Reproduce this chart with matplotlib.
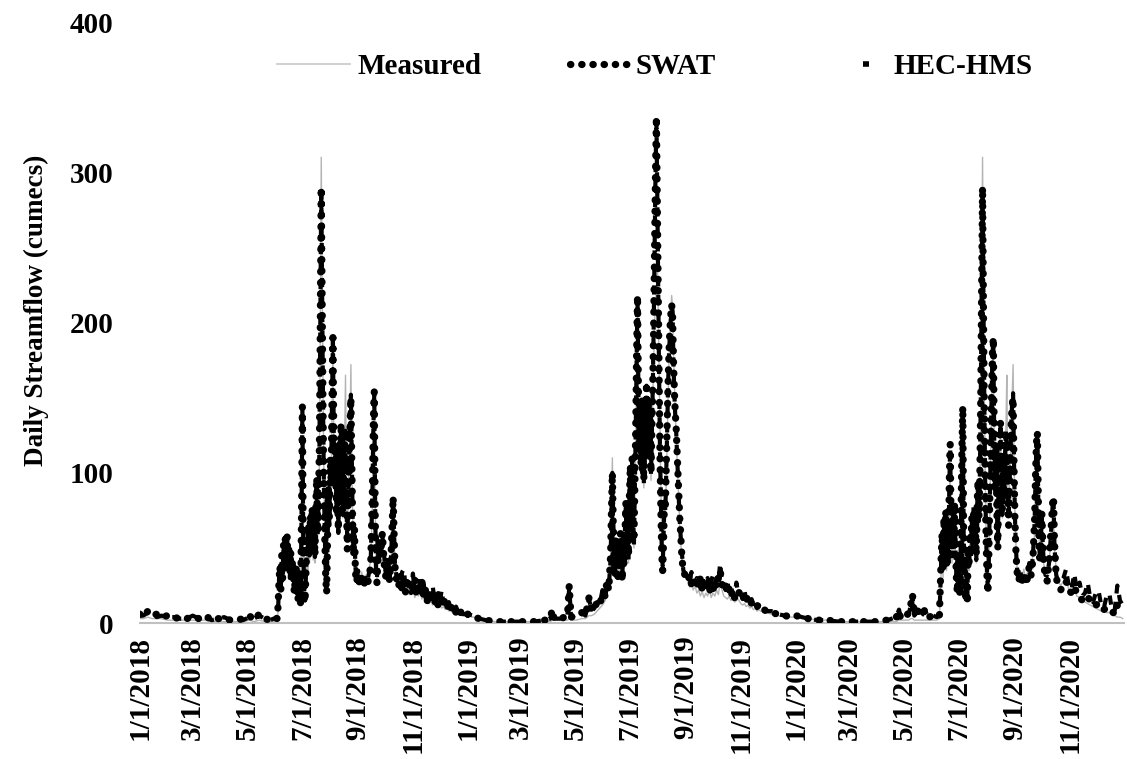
import matplotlib
matplotlib.use('Agg')
import matplotlib.pyplot as plt
import matplotlib.dates as mdates
from matplotlib.lines import Line2D
import pandas as pd

# values (cumecs), month-day per year
dates_2018 = [
    '01-01', '01-05', '01-10', '01-15', '01-20', '01-25', '02-01', '02-08', '02-15', '02-22', '03-01', '03-08', '03-15',
    '03-22', '03-29', '04-05', '04-12', '04-19', '04-26', '05-03', '05-08', '05-14', '05-20', '05-26', '05-30',
    '06-03', '06-04', '06-05', '06-06', '06-07', '06-08', '06-09', '06-10', '06-11', '06-12', '06-13', '06-14',
    '06-15', '06-16', '06-17', '06-18', '06-19', '06-20', '06-22', '06-24', '06-26', '06-28', '06-29', '06-30',
    '07-01', '07-02', '07-03', '07-04', '07-05', '07-06', '07-07', '07-08', '07-09', '07-10', '07-11', '07-12',
    '07-13', '07-14', '07-15', '07-16', '07-17', '07-18', '07-19', '07-20', '07-21', '07-22', '07-23', '07-24',
    '07-25', '07-26', '07-27', '07-28', '07-29', '07-30', '07-31',
    '08-01', '08-02', '08-03', '08-04', '08-05', '08-06', '08-07', '08-08', '08-09', '08-10', '08-11', '08-12',
    '08-13', '08-14', '08-15', '08-16', '08-17', '08-18', '08-19', '08-20', '08-21', '08-22', '08-23', '08-24',
    '08-25', '08-26', '08-27', '08-28', '08-29', '08-30',
    '09-01', '09-03', '09-05', '09-07', '09-09', '09-11', '09-13', '09-15', '09-17', '09-18', '09-19', '09-20',
    '09-21', '09-22', '09-24', '09-26', '09-28', '09-30',
    '10-02', '10-04', '10-06', '10-08', '10-10', '10-12', '10-14', '10-16', '10-18', '10-20', '10-22', '10-24',
    '10-26', '10-28', '10-30',
    '11-01', '11-03', '11-05', '11-07', '11-09', '11-11', '11-13', '11-15', '11-17', '11-19', '11-21', '11-23',
    '11-25', '11-27', '11-29',
    '12-01', '12-03', '12-05', '12-07', '12-09', '12-11', '12-13', '12-15', '12-17', '12-19', '12-21', '12-23',
    '12-25', '12-27', '12-29',
]
measured_2018 = [
    3, 3, 4, 3, 3, 3, 2, 2, 2, 2, 2, 2, 2, 1, 1, 1, 1, 1, 1, 2, 1, 2, 1, 1, 1,
    2, 8, 20, 30, 25, 38, 28, 42, 32, 45, 38, 48, 35, 42, 30, 40, 28, 35, 22, 30, 18, 25, 14, 60,
    125, 55, 25, 18, 30, 45, 35, 55, 40, 60, 45, 62, 42, 55, 40, 70, 85, 55, 75, 110, 200, 310, 230, 150,
    95, 60, 35, 24, 50, 80, 60,
    100, 90, 140, 180, 120, 85, 110, 70, 95, 60, 110, 80, 125, 90, 70, 100, 120, 165, 90, 55, 80, 110, 130,
    172, 110, 70, 50, 60, 40, 30,
    35, 28, 34, 27, 32, 26, 35, 42, 80, 120, 135, 80, 40, 30, 50, 40, 55, 35,
    30, 38, 28, 45, 75, 40, 30, 26, 22, 28, 30, 20, 24, 19, 22,
    25, 17, 20, 18, 21, 16, 18, 14, 16, 13, 15, 12, 14, 11, 12,
    12, 10, 11, 9, 10, 8, 9, 7, 8, 6, 7, 6, 5, 5, 5,
]
swat_2018 = [
    6, 4, 8, 5, 6, 4, 5, 3, 4, 3, 4, 3, 5, 2, 3, 3, 2, 2, 3, 5, 2, 6, 3, 2, 4,
    3, 12, 28, 38, 22, 45, 30, 52, 35, 57, 40, 58, 38, 50, 32, 48, 28, 42, 20, 38, 15, 30, 12, 70,
    144, 50, 20, 14, 35, 55, 44, 65, 48, 72, 50, 77, 46, 65, 45, 80, 97, 60, 85, 120, 210, 290, 215, 140,
    85, 55, 30, 20, 55, 90, 70,
    110, 95, 150, 190, 125, 90, 115, 72, 100, 62, 120, 85, 133, 95, 75, 105, 118, 125, 80, 49, 85, 115, 130,
    150, 105, 65, 45, 62, 35, 27,
    32, 25, 30, 25, 28, 25, 30, 38, 90, 135, 154, 75, 30, 27, 55, 45, 60, 40,
    30, 40, 28, 50, 84, 38, 28, 24, 32, 22, 28, 20, 30, 22, 26,
    22, 30, 18, 24, 20, 28, 17, 22, 15, 20, 14, 22, 13, 17, 12,
    14, 12, 18, 11, 13, 9, 12, 8, 10, 7, 9, 6, 8, 5, 5,
]
hechms_2018 = [
    5, 5, 7, 6, 4, 5, 4, 4, 3, 3, 5, 3, 4, 2, 3, 4, 2, 3, 2, 4, 3, 5, 3, 2, 3,
    3, 10, 25, 35, 24, 42, 33, 50, 38, 55, 44, 60, 36, 52, 30, 45, 30, 40, 22, 35, 17, 28, 13, 68,
    143, 52, 22, 15, 32, 50, 46, 62, 45, 75, 52, 74, 48, 60, 44, 78, 95, 58, 82, 118, 205, 290, 220, 145,
    90, 58, 32, 22, 52, 88, 65,
    105, 98, 148, 188, 122, 88, 112, 75, 98, 60, 118, 82, 130, 92, 72, 108, 115, 128, 84, 52, 82, 112, 128,
    152, 108, 68, 48, 58, 38, 28,
    35, 27, 32, 26, 30, 27, 33, 40, 88, 130, 152, 78, 32, 30, 52, 42, 58, 45,
    32, 42, 30, 48, 83, 40, 30, 28, 26, 34, 36, 22, 28, 26, 20,
    33, 22, 24, 20, 30, 18, 26, 17, 20, 22, 16, 25, 15, 14, 20,
    14, 22, 13, 16, 12, 14, 10, 12, 9, 11, 8, 9, 7, 6, 6,
]

dates_2019 = [
    '01-01', '01-07', '01-14', '01-21', '02-01', '02-15', '03-01', '03-15', '03-28', '04-03', '04-05', '04-07',
    '04-15', '04-22', '04-24', '04-26', '05-02', '05-08', '05-12', '05-16', '05-19', '05-22', '05-25', '05-28',
    '05-31',
    '06-03', '06-05', '06-07', '06-09', '06-10', '06-11', '06-12', '06-13', '06-14', '06-15', '06-16', '06-17',
    '06-18', '06-19', '06-20', '06-21', '06-22', '06-23', '06-24', '06-25', '06-26', '06-27', '06-28', '06-29',
    '06-30',
    '07-01', '07-02', '07-03', '07-04', '07-05', '07-06', '07-07', '07-08', '07-09', '07-10', '07-11', '07-12',
    '07-13', '07-14', '07-15', '07-16', '07-17', '07-18', '07-19', '07-20', '07-21', '07-22', '07-23', '07-24',
    '07-25', '07-26', '07-27', '07-28', '07-29', '07-30', '07-31',
    '08-01', '08-02', '08-03', '08-04', '08-05', '08-06', '08-07', '08-08', '08-09', '08-10', '08-11', '08-12',
    '08-13', '08-14', '08-15', '08-16', '08-17', '08-18', '08-19', '08-20', '08-21', '08-22', '08-23', '08-24',
    '08-25', '08-26', '08-27', '08-28', '08-29',
    '09-01', '09-03', '09-05', '09-07', '09-09', '09-11', '09-13', '09-15', '09-17', '09-19', '09-21', '09-23',
    '09-25', '09-27', '09-29',
    '10-01', '10-03', '10-05', '10-07', '10-09', '10-11', '10-13', '10-15', '10-17', '10-19', '10-21', '10-23',
    '10-25', '10-27', '10-29',
    '11-01', '11-03', '11-05', '11-07', '11-09', '11-11', '11-13', '11-15', '11-17', '11-19', '11-21', '11-23',
    '11-25', '11-27', '11-29',
    '12-05', '12-12', '12-20', '12-27',
]
measured_2019 = [
    5, 4, 3, 2, 1, 1, 1, 1, 1, 1, 2, 2, 2, 2, 3, 2, 2, 3, 3, 5, 5, 6, 8, 10, 12,
    15, 20, 25, 40, 70, 110, 70, 45, 35, 50, 40, 30, 45, 35, 55, 40, 30, 50, 35, 55, 70, 45, 60, 40, 75,
    95, 60, 100, 70, 50, 80, 120, 170, 205, 150, 110, 130, 100, 140, 115, 90, 130, 100, 150, 120, 140, 110,
    135, 95, 125, 150, 175, 200, 215, 220, 245,
    210, 170, 130, 90, 55, 45, 60, 75, 70, 95, 120, 150, 175, 190, 205, 218, 210, 180, 160, 140, 125, 110,
    95, 80, 65, 55, 45, 38, 32,
    30, 28, 24, 26, 22, 25, 20, 22, 18, 21, 17, 20, 18, 22, 17,
    20, 18, 22, 19, 28, 22, 18, 17, 16, 18, 15, 16, 14, 15, 16,
    13, 12, 13, 11, 12, 10, 11, 9, 10, 8, 9, 8, 8, 7, 7,
    6, 5, 4, 4,
]
swat_2019 = [
    6, 4, 3, 2, 1, 1, 1, 1, 2, 3, 9, 3, 3, 5, 25, 4, 5, 7, 5, 17, 8, 10, 14, 12, 20,
    18, 28, 22, 45, 75, 100, 65, 45, 32, 55, 40, 28, 50, 38, 60, 42, 28, 55, 38, 60, 80, 50, 65, 45, 85,
    105, 65, 110, 72, 55, 90, 130, 180, 218, 155, 115, 140, 105, 150, 120, 95, 140, 110, 160, 125, 145, 115,
    140, 100, 130, 160, 200, 250, 300, 337, 280,
    220, 160, 110, 75, 45, 35, 55, 82, 78, 105, 130, 160, 180, 195, 205, 212, 205, 175, 155, 140, 130, 115,
    100, 85, 70, 60, 48, 40, 35,
    30, 28, 32, 26, 30, 25, 28, 24, 30, 22, 27, 22, 26, 21, 25,
    22, 28, 24, 30, 35, 26, 22, 25, 20, 23, 18, 22, 17, 20, 22,
    17, 19, 15, 18, 14, 16, 13, 14, 11, 12, 10, 11, 9, 9, 8,
    7, 6, 5, 4,
]
hechms_2019 = [
    6, 5, 3, 2, 1, 1, 1, 1, 2, 3, 9, 3, 3, 5, 24, 4, 6, 7, 5, 16, 8, 10, 14, 13, 22,
    17, 25, 24, 42, 72, 100, 68, 48, 34, 52, 38, 30, 48, 36, 58, 40, 32, 50, 36, 62, 78, 48, 62, 42, 82,
    100, 62, 108, 75, 52, 88, 128, 175, 215, 152, 112, 138, 102, 148, 118, 92, 135, 108, 158, 122, 150, 112,
    138, 98, 128, 158, 198, 248, 298, 335, 285,
    225, 165, 115, 80, 48, 38, 58, 80, 75, 100, 128, 158, 178, 192, 202, 210, 208, 172, 153, 138, 128, 112,
    98, 82, 68, 58, 50, 42, 35,
    32, 30, 28, 34, 28, 26, 30, 28, 24, 32, 24, 25, 30, 22, 28,
    32, 26, 30, 28, 40, 28, 25, 22, 28, 20, 24, 20, 18, 27, 20,
    20, 16, 22, 15, 18, 14, 16, 12, 14, 10, 12, 9, 10, 8, 8,
    8, 6, 5, 4,
]

dates_2020 = [
    '01-01', '01-08', '01-15', '01-25', '02-05', '02-18', '03-01', '03-15', '03-30', '04-12', '04-22', '04-25',
    '04-27', '05-02', '05-06', '05-08', '05-10', '05-12', '05-16', '05-20', '05-24', '05-28', '06-02', '06-06',
    '06-09',
    '06-10', '06-11', '06-12', '06-13', '06-14', '06-15', '06-16', '06-17', '06-18', '06-19', '06-20', '06-21',
    '06-22', '06-23', '06-24', '06-25', '06-26', '06-27', '06-28', '06-29', '06-30',
    '07-01', '07-02', '07-03', '07-04', '07-05', '07-06', '07-07', '07-08', '07-09', '07-10', '07-11', '07-12',
    '07-13', '07-14', '07-15', '07-16', '07-17', '07-18', '07-19', '07-20', '07-21', '07-22', '07-23', '07-24',
    '07-25', '07-26', '07-27', '07-28', '07-29', '07-30', '07-31',
    '08-01', '08-02', '08-03', '08-04', '08-05', '08-06', '08-07', '08-08', '08-09', '08-10', '08-11', '08-12',
    '08-13', '08-14', '08-15', '08-16', '08-17', '08-18', '08-19', '08-20', '08-21', '08-22', '08-23', '08-24',
    '08-25', '08-26', '08-27', '08-28', '08-29', '08-30', '08-31',
    '09-01', '09-02', '09-03', '09-04', '09-05', '09-07', '09-09', '09-11', '09-13', '09-15', '09-17', '09-19',
    '09-21', '09-23', '09-24', '09-25', '09-26', '09-27', '09-28', '09-29', '09-30',
    '10-01', '10-02', '10-03', '10-05', '10-07', '10-09', '10-11', '10-13', '10-14', '10-15', '10-17', '10-19',
    '10-22', '10-25', '10-28', '10-31',
    '11-03', '11-06', '11-09', '11-12', '11-15', '11-18', '11-21', '11-24', '11-27', '11-30', '12-03', '12-06',
    '12-09', '12-12', '12-15', '12-18', '12-21', '12-24', '12-27', '12-30',
]
measured_2020 = [
    4, 4, 3, 2, 2, 1, 1, 1, 1, 1, 1, 2, 2, 2, 2, 3, 3, 2, 2, 2, 2, 2, 2, 2, 3,
    20, 35, 50, 30, 55, 40, 60, 35, 50, 38, 80, 100, 60, 40, 65, 45, 70, 45, 30, 25, 40,
    30, 20, 60, 100, 125, 60, 35, 20, 30, 18, 45, 35, 55, 40, 65, 50, 68, 45, 60, 40, 70, 85, 60, 90,
    140, 220, 310, 220, 150, 95, 60,
    35, 25, 40, 70, 110, 140, 170, 180, 120, 85, 110, 70, 55, 90, 110, 125, 90, 70, 100, 80, 110, 130, 165, 95,
    70, 90, 110, 130, 150, 172, 110,
    75, 55, 40, 32, 29, 35, 30, 36, 28, 34, 40, 35, 45, 60, 90, 110, 110, 80, 55, 45, 55,
    65, 50, 40, 32, 30, 40, 55, 70, 75, 50, 35, 28, 25, 28, 30, 22,
    20, 22, 18, 17, 15, 14, 13, 12, 11, 10, 9, 8, 8, 7, 7, 6, 5, 4, 4, 3,
]
swat_2020 = [
    5, 4, 3, 2, 2, 1, 1, 1, 1, 2, 4, 8, 3, 4, 7, 12, 19, 6, 8, 5, 9, 4, 5, 4, 5,
    25, 45, 60, 35, 70, 45, 75, 38, 62, 42, 95, 119, 65, 45, 75, 50, 80, 48, 28, 20, 45,
    25, 18, 70, 115, 144, 55, 28, 15, 25, 13, 50, 40, 60, 45, 70, 55, 75, 50, 65, 45, 80, 95, 70, 100,
    150, 225, 290, 210, 140, 85, 55,
    30, 20, 45, 80, 120, 150, 180, 190, 125, 90, 115, 72, 50, 100, 120, 133, 95, 75, 105, 85, 115, 125, 120, 90,
    65, 95, 115, 135, 145, 150, 105,
    70, 50, 38, 30, 28, 32, 28, 33, 26, 30, 38, 32, 42, 70, 100, 120, 127, 85, 50, 40, 60,
    73, 55, 40, 30, 28, 42, 60, 80, 84, 55, 30, 26, 22, 26, 28, 22,
    20, 24, 20, 18, 15, 16, 18, 14, 12, 12, 13, 10, 9, 10, 10, 8, 6, 12, 8, 10,
]
hechms_2020 = [
    5, 4, 3, 2, 2, 1, 1, 1, 1, 2, 4, 9, 4, 4, 6, 12, 18, 5, 8, 5, 8, 4, 5, 4, 5,
    22, 42, 58, 38, 68, 48, 72, 40, 60, 40, 92, 117, 62, 48, 72, 48, 78, 45, 30, 22, 42,
    28, 20, 68, 112, 142, 58, 30, 18, 28, 15, 48, 38, 58, 42, 68, 52, 78, 48, 62, 42, 78, 92, 68, 98,
    148, 222, 290, 212, 145, 90, 58,
    32, 22, 42, 78, 118, 148, 178, 188, 122, 88, 112, 75, 52, 98, 118, 130, 92, 72, 108, 82, 112, 128, 118, 92,
    68, 92, 112, 132, 148, 153, 108,
    72, 52, 40, 32, 30, 34, 30, 35, 28, 33, 40, 35, 44, 68, 98, 118, 125, 82, 52, 42, 58,
    70, 52, 42, 32, 32, 40, 58, 78, 83, 52, 32, 28, 28, 30, 36, 24,
    22, 33, 22, 27, 18, 20, 27, 16, 14, 20, 22, 12, 10, 18, 20, 9, 8, 25, 15, 12,
]

x = pd.to_datetime(['2018-' + d for d in dates_2018] + ['2019-' + d for d in dates_2019]
                   + ['2020-' + d for d in dates_2020])
measured = measured_2018 + measured_2019 + measured_2020
swat = swat_2018 + swat_2019 + swat_2020
hechms = hechms_2018 + hechms_2019 + hechms_2020

plt.rcParams['font.family'] = 'Liberation Serif'
plt.rcParams['font.weight'] = 'bold'

fig = plt.figure(figsize=(11.27, 7.59), dpi=100)
ax = fig.add_axes([0.124, 0.179, 0.873, 0.792])

dot_style = (0, (0.05, 1.5))
ax.plot(x, measured, color='#b4b4b4', lw=1.0, zorder=2)
ax.plot(x, hechms, color='black', lw=3.0, linestyle=(0, (2.2, 2.0)), zorder=3)
ax.plot(x, swat, color='black', lw=5.2, linestyle=dot_style, dash_capstyle='round', zorder=4)

ax.set_ylim(0, 400)
ax.set_yticks([0, 100, 200, 300, 400])
ax.set_xlim(pd.Timestamp('2018-01-01'), pd.Timestamp('2020-12-31'))
ax.xaxis.set_major_locator(mdates.MonthLocator(bymonth=[1, 3, 5, 7, 9, 11]))
ax.xaxis.set_major_formatter(plt.FuncFormatter(
    lambda v, pos: '{d.month}/{d.day}/{d.year}'.format(d=mdates.num2date(v))))

for s in ['top', 'right', 'left']:
    ax.spines[s].set_visible(False)
ax.spines['bottom'].set_color('#c0c0c0')
ax.spines['bottom'].set_linewidth(1.5)
ax.spines['bottom'].set_zorder(1)

ax.tick_params(axis='both', length=0, labelsize=21)
ax.tick_params(axis='y', pad=19)
ax.tick_params(axis='x', pad=9, rotation=90)

ax.set_ylabel('Daily Streamflow (cumecs)', fontsize=19.5, fontweight='bold')
ax.yaxis.set_label_coords(-0.092, 0.52)

# legend entries placed one by one to match the reference spacing
legend_font = {'family': 'Liberation Serif', 'weight': 'bold', 'size': 21}
entries = [
    (Line2D([], [], color='#c8c8c8', lw=1.2), 'Measured', 0.2458, 2.5, 0.27),
    (Line2D([], [], color='black', lw=5.2, linestyle=dot_style, dash_capstyle='round'),
     'SWAT', 0.5058, 2.06, 0.17),
    (Line2D([], [], color='black', lw=4, linestyle=(35.14, (1.08, 40))), 'HEC-HMS', 0.7365, 1.89, 0.27),
]
for h, lab, x0, hl, tp in entries:
    fig.legend([h], [lab], loc='center left', bbox_to_anchor=(x0, 0.912), frameon=False,
               prop=legend_font, handlelength=hl, handletextpad=tp, borderpad=0, borderaxespad=0)

fig.savefig('out.png', dpi=100)
